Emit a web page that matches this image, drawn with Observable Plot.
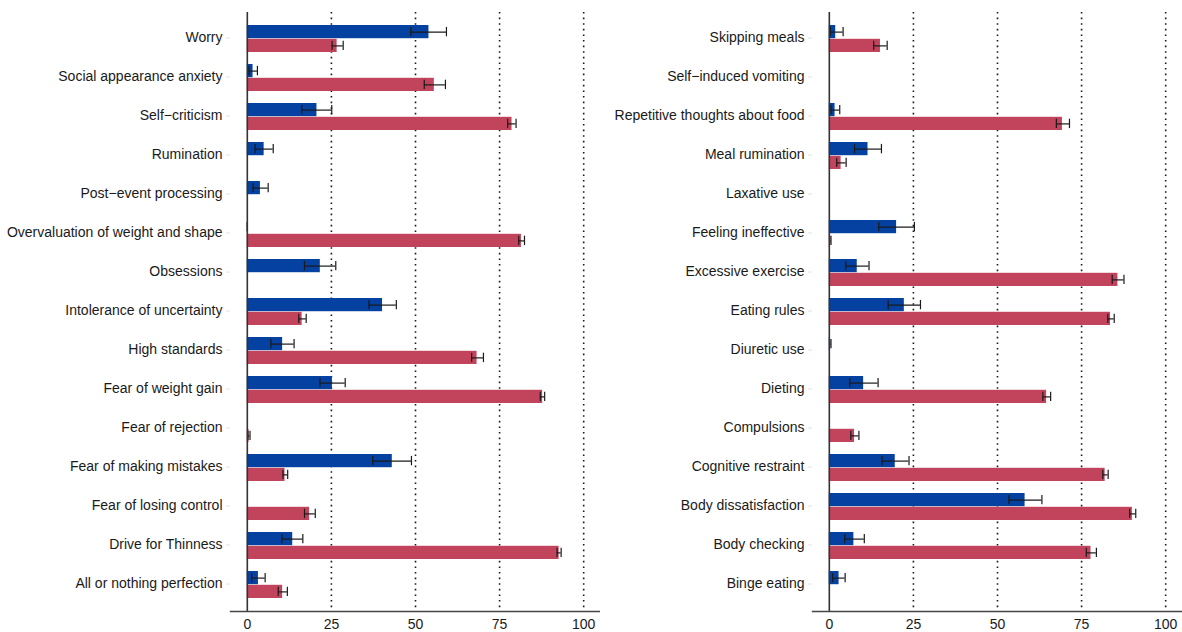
<!DOCTYPE html>
<html>
<head>
<meta charset="utf-8">
<script src="https://cdn.jsdelivr.net/npm/d3@7"></script>
<script src="https://cdn.jsdelivr.net/npm/@observablehq/plot@0.6"></script>
<style>
  html, body { margin: 0; padding: 0; background: #fff; }
  #chart { display: flex; flex-direction: row; width: 1182px; height: 632px; }
  #chart svg { display: block; }
</style>
</head>
<body>
<div id="chart"></div>
<script>
// Left panel: transdiagnostic processes (top to bottom)
const leftCategories = [
  "Worry", "Social appearance anxiety", "Self\u2212criticism", "Rumination",
  "Post\u2212event processing", "Overvaluation of weight and shape", "Obsessions",
  "Intolerance of uncertainty", "High standards", "Fear of weight gain",
  "Fear of rejection", "Fear of making mistakes", "Fear of losing control",
  "Drive for Thinness", "All or nothing perfection"
];
const leftBlue     = [54.0, 1.7, 20.7, 5.0, 3.9, 0, 21.7, 40.2, 10.5, 25.3, null, 43.1, null, 13.5, 3.3];
const leftBlueLow  = [48.6, 0.5, 16.2, 2.3, 1.7, 0, 17.0, 36.2, 7.0, 21.6, null, 37.3, null, 10.3, 1.3];
const leftBlueHigh = [59.2, 3.0, 25.1, 7.7, 6.2, 0, 26.3, 44.3, 13.9, 29.1, null, 48.8, null, 16.5, 5.3];
const leftRed      = [26.7, 55.6, 78.7, null, null, 81.5, null, 16.3, 68.3, 87.8, 0.5, 11.2, 18.5, 92.7, 10.5];
const leftRedLow   = [25.2, 52.6, 77.4, null, null, 80.7, null, 15.3, 66.7, 87.1, 0.2, 10.6, 17.0, 92.1, 9.2];
const leftRedHigh  = [28.5, 58.9, 79.9, null, null, 82.4, null, 17.5, 70.2, 88.4, 0.8, 12.0, 20.2, 93.3, 11.9];

// Right panel: eating-related behaviours and cognitions (top to bottom)
const rightCategories = [
  "Skipping meals", "Self\u2212induced vomiting", "Repetitive thoughts about food",
  "Meal rumination", "Laxative use", "Feeling ineffective", "Excessive exercise",
  "Eating rules", "Diuretic use", "Dieting", "Compulsions", "Cognitive restraint",
  "Body dissatisfaction", "Body checking", "Binge eating"
];
const rightBlue     = [1.9, null, 1.7, 11.5, null, 20.0, 8.3, 22.3, 0.3, 10.2, null, 19.6, 58.2, 7.3, 2.9];
const rightBlueLow  = [0.3, null, 0.5, 7.5, null, 14.7, 4.9, 17.5, 0.1, 6.1, null, 15.7, 53.4, 4.6, 1.0];
const rightBlueHigh = [4.1, null, 3.1, 15.5, null, 25.3, 11.8, 27.1, 0.5, 14.5, null, 23.7, 63.2, 10.4, 4.7];
const rightRed      = [15.2, null, 69.3, 3.5, null, 0.3, 85.8, 83.6, null, 64.6, 7.5, 82.0, 90.1, 77.8, null];
const rightRedLow   = [13.2, null, 67.5, 2.2, null, 0.1, 84.1, 82.8, null, 63.5, 6.4, 81.3, 89.3, 76.4, null];
const rightRedHigh  = [17.2, null, 71.4, 5.0, null, 0.5, 87.6, 84.7, null, 65.8, 8.8, 82.9, 91.1, 79.4, null];

const xTicks = [0, 25, 50, 75, 100];
const gridValues = [25, 50, 75, 100];

const BLUE = "#0441a0";
const RED = "#c2445c";
const INK = "#1a1a1a";

const HEIGHT = 632, MARGIN_TOP = 12, MARGIN_BOTTOM = 21;
const PAD_INNER = 0.3, PAD_OUTER = 0.25;

function panel(cats, b, bl, bh, r, rl, rh, width, marginLeft) {
  const n = cats.length;
  const step = (HEIGHT - MARGIN_TOP - MARGIN_BOTTOM) / (n - PAD_INNER + 2 * PAD_OUTER);
  const half = step * (1 - PAD_INNER) / 2;   // height of one bar
  const capInset = (half - 10) / 2;          // error-bar caps ~10px tall

  const blue = cats.map((c, i) => ({c, v: b[i], lo: bl[i], hi: bh[i]})).filter(d => d.v != null);
  const red  = cats.map((c, i) => ({c, v: r[i], lo: rl[i], hi: rh[i]})).filter(d => d.v != null);

  const errStyle = {stroke: INK, strokeWidth: 1.2};

  return Plot.plot({
    width, height: HEIGHT,
    marginLeft, marginRight: 0, marginTop: MARGIN_TOP, marginBottom: MARGIN_BOTTOM,
    style: {fontFamily: "Arial, 'Liberation Sans', Helvetica, sans-serif", fontSize: "14px", color: INK, background: "#fff"},
    x: {domain: [-5, 105], label: null},
    y: {domain: cats, paddingInner: PAD_INNER, paddingOuter: PAD_OUTER, label: null},
    marks: [
      // dotted reference lines
      Plot.ruleX(gridValues, {stroke: INK, strokeWidth: 1.6, strokeDasharray: "1.6 4.0"}),
      // bars: first series in the upper half of each band, second in the lower half
      Plot.barX(blue, {y: "c", x1: 0, x2: "v", fill: BLUE, insetBottom: half, insetTop: 0}),
      Plot.barX(red, {y: "c", x1: 0, x2: "v", fill: RED, insetTop: half, insetBottom: 0}),
      // error bars
      Plot.ruleY(blue, {y: "c", x1: "lo", x2: "hi", dy: -half / 2, ...errStyle}),
      Plot.tickX(blue, {y: "c", x: "lo", insetTop: capInset, insetBottom: half + capInset, ...errStyle}),
      Plot.tickX(blue, {y: "c", x: "hi", insetTop: capInset, insetBottom: half + capInset, ...errStyle}),
      Plot.ruleY(red, {y: "c", x1: "lo", x2: "hi", dy: half / 2, ...errStyle}),
      Plot.tickX(red, {y: "c", x: "lo", insetTop: half + capInset, insetBottom: capInset, ...errStyle}),
      Plot.tickX(red, {y: "c", x: "hi", insetTop: half + capInset, insetBottom: capInset, ...errStyle}),
      // zero line and bottom axis line
      Plot.ruleX([0], {stroke: "#333", strokeWidth: 1.6}),
      Plot.frame({anchor: "bottom", stroke: "#444", strokeWidth: 1.4}),
      Plot.axisX({ticks: xTicks, tickSize: 0, tickPadding: 8, fill: INK, label: null}),
      Plot.axisY({tickSize: 4, tickPadding: 4, stroke: "#e2e2e2", fill: INK, label: null, dy: -1})
    ]
  });
}

const chart = document.getElementById("chart");
chart.append(panel(leftCategories, leftBlue, leftBlueLow, leftBlueHigh, leftRed, leftRedLow, leftRedHigh, 600, 230));
chart.append(panel(rightCategories, rightBlue, rightBlueLow, rightBlueHigh, rightRed, rightRedLow, rightRedHigh, 582, 212));
</script>
</body>
</html>
